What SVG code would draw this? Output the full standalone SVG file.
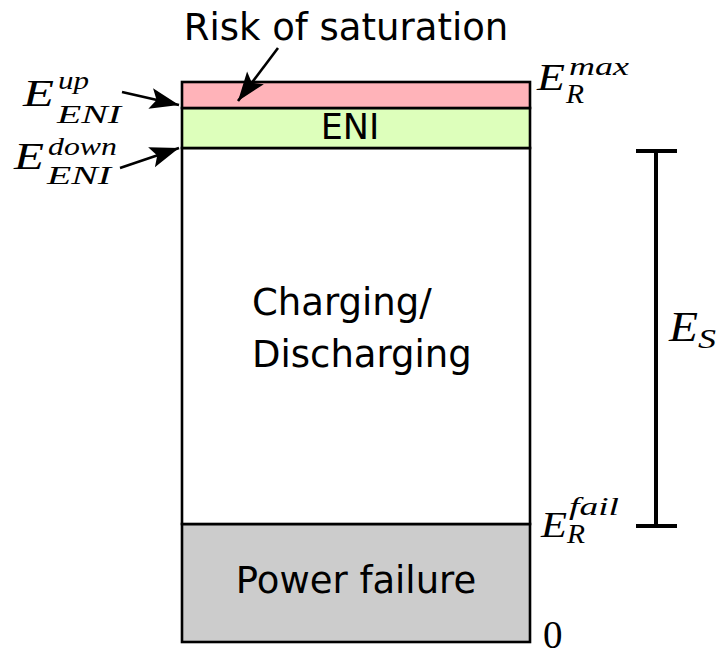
<svg xmlns="http://www.w3.org/2000/svg" width="720" height="657" viewBox="0 0 720 657">
<style>
.sans{font-family:"DejaVu Sans",sans-serif;fill:#000}
.m{font-family:"Liberation Serif",serif;font-style:italic;fill:#000}
.band{stroke:#000;stroke-width:2.6}
.conn{stroke:#000;stroke-width:2.6;fill:none}
.bar{stroke:#000;stroke-width:4;fill:none}
</style>
<defs>
<marker id="ah" markerUnits="userSpaceOnUse" markerWidth="32" markerHeight="24" viewBox="-30 -12 32 24" refX="0" refY="0" orient="auto">
<path d="M0,0 L-29,-10.5 L-23,0 L-29,10.5 Z" fill="#000"/>
</marker>
</defs>
<rect width="720" height="657" fill="#fff"/>
<g id="power-failure">
<rect class="band" x="182" y="524" width="348" height="118" fill="#cccccc"/>
<text class="sans" x="356" y="593" font-size="37" text-anchor="middle">Power failure</text>
</g>
<g id="charging">
<rect class="band" x="182" y="148" width="348" height="376" fill="#ffffff"/>
<text class="sans" x="252" y="315" font-size="37">Charging/</text>
<text class="sans" x="252" y="367" font-size="37">Discharging</text>
</g>
<g id="eni">
<rect class="band" x="182" y="108" width="348" height="40" fill="#ddffbb"/>
<text class="sans" x="350" y="139" font-size="35" text-anchor="middle">ENI</text>
</g>
<g id="saturation">
<rect class="band" x="182" y="82" width="348" height="26" fill="#ffb3b9"/>
</g>
<g id="risk-label">
<text class="sans" x="346" y="40" font-size="37" text-anchor="middle">Risk of saturation</text>
</g>
<g id="label-up">
<text class="m" x="23" y="106" font-size="37" textLength="31" lengthAdjust="spacingAndGlyphs">E</text>
<text class="m" x="58" y="89" font-size="26" textLength="31" lengthAdjust="spacingAndGlyphs">up</text>
<text class="m" x="57" y="123" font-size="25" textLength="64" lengthAdjust="spacingAndGlyphs">ENI</text>
</g>
<g id="label-down">
<text class="m" x="14" y="169" font-size="37" textLength="30" lengthAdjust="spacingAndGlyphs">E</text>
<text class="m" x="48" y="155" font-size="26" textLength="69" lengthAdjust="spacingAndGlyphs">down</text>
<text class="m" x="47" y="184" font-size="25" textLength="64" lengthAdjust="spacingAndGlyphs">ENI</text>
</g>
<g id="label-max">
<text class="m" x="537" y="90" font-size="37" textLength="28" lengthAdjust="spacingAndGlyphs">E</text>
<text class="m" x="569" y="75" font-size="26" textLength="60" lengthAdjust="spacingAndGlyphs">max</text>
<text class="m" x="566" y="103" font-size="27" textLength="18" lengthAdjust="spacingAndGlyphs">R</text>
</g>
<g id="label-fail">
<text class="m" x="541" y="537" font-size="35" textLength="26" lengthAdjust="spacingAndGlyphs">E</text>
<text class="m" x="569" y="515" font-size="26" textLength="50" lengthAdjust="spacingAndGlyphs">fail</text>
<text class="m" x="567" y="543" font-size="27" textLength="18" lengthAdjust="spacingAndGlyphs">R</text>
</g>
<g id="label-zero">
<text x="543" y="648" font-size="39" font-family="Liberation Serif, serif">0</text>
</g>
<g id="es-bracket">
<path class="bar" d="M656,151 V526 M636,151 H677 M636,526 H677"/>
<text class="m" x="669" y="341" font-size="43" textLength="29" lengthAdjust="spacingAndGlyphs">E</text>
<text class="m" x="698" y="348" font-size="28" textLength="18" lengthAdjust="spacingAndGlyphs">S</text>
</g>
<g id="connectors">
<line class="conn" x1="278" y1="48" x2="238" y2="101" marker-end="url(#ah)"/>
<line class="conn" x1="122" y1="92" x2="179" y2="105" marker-end="url(#ah)"/>
<line class="conn" x1="120" y1="168" x2="179" y2="148" marker-end="url(#ah)"/>
</g>
</svg>
